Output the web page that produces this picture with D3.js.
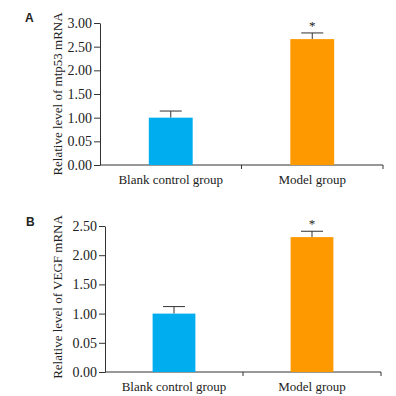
<!DOCTYPE html>
<html>
<head>
<meta charset="utf-8">
<script src="https://cdn.jsdelivr.net/npm/d3@7"></script>
<style>
  body { margin: 0; background: #fff; }
  svg { display: block; }
</style>
</head>
<body>
<svg id="chart" width="396" height="396"></svg>
<script>
const categories = ["Blank control group", "Model group"]
const mtp53Values = [1.00, 2.66]
const mtp53Errors = [0.14, 0.13]
const vegfValues = [1.00, 2.31]
const vegfErrors = [0.12, 0.10]
const mtp53Ticks = [0, 0.5, 1, 1.5, 2, 2.5, 3]
const mtp53TickLabels = ["0.00", "0.05", "1.00", "1.50", "2.00", "2.50", "3.00"]
const vegfTicks = [0, 0.5, 1, 1.5, 2, 2.5]
const vegfTickLabels = ["0.00", "0.05", "1.00", "1.50", "2.00", "2.50"]
const significant = [false, true]
const barColors = ["#00aeef", "#ff9900"]

const svg = d3.select("#chart")
const font = "'Liberation Serif', 'Times New Roman', serif"
const axisColor = "#333"

function drawPanel(opt) {
    let g = svg.append("g")

    let x = d3.scaleBand()
        .domain(categories)
        .range([opt.x0, opt.x1])
        .paddingInner(0.69)
        .paddingOuter(0.345)

    let y = d3.scaleLinear()
        .domain([0, opt.max])
        .range([opt.y0, opt.y1])

    // y axis
    let yAxis = d3.axisLeft(y)
        .tickValues(opt.ticks)
        .tickFormat((d, i) => opt.tickLabels[i])
        .tickSize(6)
        .tickPadding(2)
        .tickSizeOuter(0)
    let ya = g.append("g")
        .attr("transform", "translate(" + opt.x0 + ",0)")
        .call(yAxis)
    ya.selectAll("path, line").attr("stroke", axisColor)
    ya.selectAll("text")
        .attr("font-family", font)
        .attr("font-size", 14)
        .attr("fill", "#222")

    // x axis line + ticks at band boundaries
    g.append("line")
        .attr("x1", opt.x0).attr("x2", opt.x1)
        .attr("y1", opt.y0).attr("y2", opt.y0)
        .attr("stroke", axisColor)
    let step = x.step()
    let bounds = [x(categories[0]) - step * 0.345 + step, opt.x1]
    g.selectAll(".xtick")
        .data(bounds)
        .enter()
        .append("line")
        .attr("x1", d => d).attr("x2", d => d)
        .attr("y1", opt.y0).attr("y2", opt.y0 + 4)
        .attr("stroke", axisColor)

    g.selectAll(".xlabel")
        .data(categories)
        .enter()
        .append("text")
        .attr("x", d => x(d) + x.bandwidth() / 2)
        .attr("y", opt.y0 + 19)
        .attr("text-anchor", "middle")
        .attr("font-family", font)
        .attr("font-size", 13)
        .attr("fill", "#222")
        .text(d => d)

    // error bars
    let errs = g.selectAll(".err")
        .data(opt.values)
        .enter()
        .append("g")
    errs.append("line")
        .attr("x1", (d, i) => x(categories[i]) + x.bandwidth() / 2)
        .attr("x2", (d, i) => x(categories[i]) + x.bandwidth() / 2)
        .attr("y1", d => y(d))
        .attr("y2", (d, i) => y(d + opt.errors[i]))
        .attr("stroke", axisColor)
    errs.append("line")
        .attr("x1", (d, i) => x(categories[i]) + x.bandwidth() / 2 - 11)
        .attr("x2", (d, i) => x(categories[i]) + x.bandwidth() / 2 + 11)
        .attr("y1", (d, i) => y(d + opt.errors[i]))
        .attr("y2", (d, i) => y(d + opt.errors[i]))
        .attr("stroke", axisColor)

    // bars
    g.selectAll(".bar")
        .data(opt.values)
        .enter()
        .append("rect")
        .attr("x", (d, i) => x(categories[i]))
        .attr("y", d => y(d))
        .attr("width", x.bandwidth())
        .attr("height", d => opt.y0 - y(d))
        .attr("fill", (d, i) => barColors[i])

    // significance star
    g.selectAll(".star")
        .data(opt.values)
        .enter()
        .filter((d, i) => significant[i])
        .append("text")
        .attr("x", (d, i) => x(categories[1]) + x.bandwidth() / 2)
        .attr("y", (d) => y(d + opt.errors[1]) - 3)
        .attr("text-anchor", "middle")
        .attr("font-family", font)
        .attr("font-size", 13)
        .attr("fill", "#222")
        .text("*")

    // y title
    g.append("text")
        .attr("transform", "translate(" + opt.titleX + "," + opt.titleY + ") rotate(-90)")
        .attr("text-anchor", "middle")
        .attr("font-family", font)
        .attr("font-size", 13)
        .attr("fill", "#222")
        .text(opt.title)

    // panel letter
    g.append("text")
        .attr("x", opt.letterX)
        .attr("y", opt.letterY)
        .attr("font-family", "'Liberation Sans', Arial, sans-serif")
        .attr("font-weight", "bold")
        .attr("font-size", 12)
        .attr("fill", "#222")
        .text(opt.letter)
}

drawPanel({
    x0: 100, x1: 383, y0: 165, y1: 23, max: 3,
    ticks: mtp53Ticks, tickLabels: mtp53TickLabels,
    values: mtp53Values, errors: mtp53Errors,
    title: "Relative level of mtp53 mRNA", titleX: 62, titleY: 94,
    letter: "A", letterX: 25, letterY: 22
})

drawPanel({
    x0: 105, x1: 381, y0: 372, y1: 226, max: 2.5,
    ticks: vegfTicks, tickLabels: vegfTickLabels,
    values: vegfValues, errors: vegfErrors,
    title: "Relative level of VEGF mRNA", titleX: 62, titleY: 297,
    letter: "B", letterX: 26, letterY: 226
})
</script>
</body>
</html>
